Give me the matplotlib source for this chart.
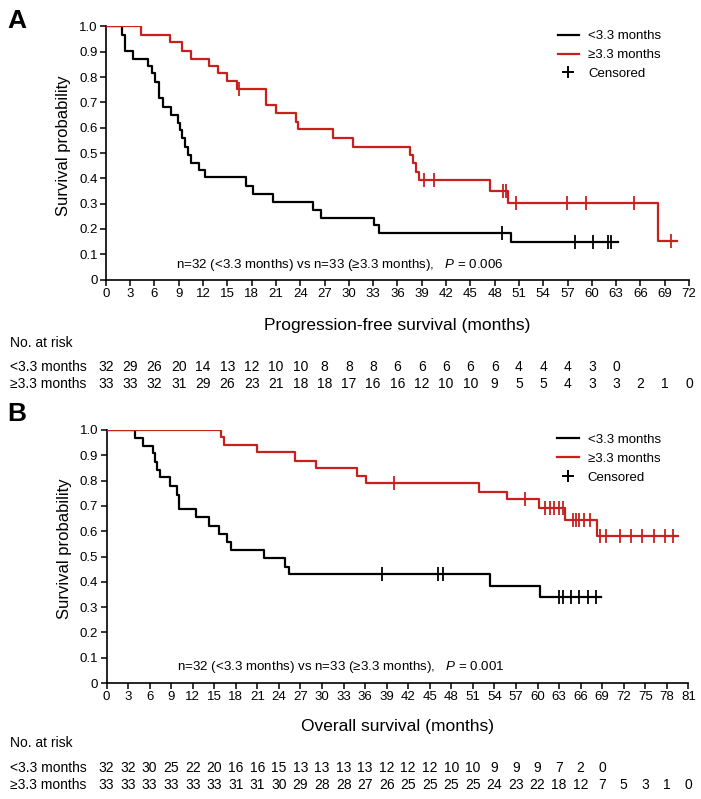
import matplotlib
matplotlib.use('Agg')
import matplotlib.pyplot as plt
import matplotlib.transforms as mtransforms
from matplotlib.lines import Line2D
import numpy as np

plt.rcParams['font.family'] = ['Liberation Sans', 'DejaVu Sans']
plt.rcParams['mathtext.fontset'] = 'custom'
plt.rcParams['mathtext.it'] = 'Liberation Sans:italic'
plt.rcParams['mathtext.rm'] = 'Liberation Sans'

RED = '#c8201e'

# ---- Panel A: progression-free survival ----
pfs_low_t = [1.95, 2.35, 3.3, 5.2, 5.75, 6.05, 6.55, 7.0, 8.1, 8.9, 9.1, 9.35, 9.75,
             10.15, 10.55, 11.5, 12.2, 17.35, 18.15, 20.65, 25.55, 26.55, 33.15, 33.75, 50.0]
pfs_low_s = [0.967, 0.901, 0.871, 0.842, 0.815, 0.782, 0.716, 0.683, 0.650, 0.617, 0.591, 0.558, 0.525,
             0.492, 0.459, 0.433, 0.404, 0.371, 0.340, 0.307, 0.274, 0.245, 0.215, 0.185, 0.150]
pfs_low_cens = [48.85, 57.9, 60.2, 62.0, 62.4]
pfs_low_end = 63.2

pfs_high_t = [4.4, 7.9, 9.35, 10.45, 12.75, 13.9, 14.9, 16.25, 19.8, 21.0, 23.5, 23.7, 28.1, 30.5,
              37.5, 37.9, 38.3, 38.7, 47.4, 49.6, 68.2]
pfs_high_s = [0.967, 0.937, 0.904, 0.872, 0.843, 0.814, 0.786, 0.753, 0.690, 0.657, 0.624, 0.594, 0.558, 0.523,
              0.492, 0.459, 0.426, 0.393, 0.351, 0.303, 0.151]
pfs_high_cens = [16.4, 39.3, 40.5, 49.0, 49.4, 50.6, 56.9, 59.3, 65.2, 69.8]
pfs_high_end = 70.5

pfs_risk_low = [32, 29, 26, 20, 14, 13, 12, 10, 10, 8, 8, 8, 6, 6, 6, 6, 6, 4, 4, 4, 3, 0]
pfs_risk_high = [33, 33, 32, 31, 29, 26, 23, 21, 18, 18, 17, 16, 16, 12, 10, 10, 9, 5, 5, 4, 3, 3, 2, 1, 0]

# ---- Panel B: overall survival ----
os_low_t = [3.94, 5.1, 6.4, 6.73, 7.05, 7.4, 8.8, 9.83, 10.1, 12.4, 14.3, 15.7, 16.7, 17.3,
            21.9, 24.8, 25.4, 53.4, 60.3]
os_low_s = [0.967, 0.937, 0.908, 0.875, 0.842, 0.813, 0.779, 0.744, 0.687, 0.654, 0.621, 0.590, 0.559, 0.526,
            0.493, 0.460, 0.430, 0.385, 0.340]
os_low_cens = [38.4, 46.2, 46.9, 63.0, 63.6, 64.7, 65.8, 67.0, 68.2]
os_low_end = 68.8

os_high_t = [16.0, 16.3, 21.0, 26.2, 29.2, 34.8, 36.1, 51.9, 55.8, 60.2, 63.8, 68.3]
os_high_s = [0.970, 0.941, 0.911, 0.878, 0.849, 0.818, 0.789, 0.756, 0.726, 0.691, 0.645, 0.582]
os_high_cens = [40.0, 58.3, 61.1, 61.7, 62.3, 63.0, 63.5, 64.9, 65.4, 65.8, 66.5, 67.3,
                68.7, 69.6, 71.5, 73.0, 74.5, 76.2, 77.8, 78.9]
os_high_end = 79.5

os_risk_low = [32, 32, 30, 25, 22, 20, 16, 16, 15, 13, 13, 13, 13, 12, 12, 12, 10, 10, 9, 9, 9, 7, 2, 0]
os_risk_high = [33, 33, 33, 33, 33, 33, 31, 31, 30, 29, 28, 28, 27, 26, 25, 25, 25, 25, 24, 23, 22, 18, 12, 7, 5, 3, 1, 0]

group_labels = ['<3.3 months', '\u22653.3 months']


def km_curve(ax, times, surv, cens, end, color):
    x = [0] + list(times) + [end]
    y = [1.0] + list(surv) + [surv[-1]]
    ax.step(x, y, where='post', color=color, lw=1.6, zorder=3)
    # censor marks sit on the step level
    idx = np.searchsorted(np.array(times), np.array(cens), side='right')
    levels = np.concatenate([[1.0], surv])[idx]
    ax.plot(cens, levels, ls='none', marker='|', ms=10, mew=1.3, color=color, zorder=4)


def setup_axes(ax, xmax, xlabel, ptext, note_x, note_y, xlab_y):
    ax.set_xlim(0, xmax)
    ax.set_ylim(0, 1.0)
    ax.set_xticks(np.arange(0, xmax + 1, 3))
    ax.set_yticks(np.arange(0, 1.01, 0.1))
    ax.set_yticklabels(['0'] + ['%.1f' % v for v in np.arange(0.1, 1.01, 0.1)])
    ax.spines['top'].set_visible(False)
    ax.spines['right'].set_visible(False)
    for s in ['left', 'bottom']:
        ax.spines[s].set_linewidth(1.2)
    ax.tick_params(direction='out', length=4, width=1.1, labelsize=9.5, pad=2)
    ax.set_xlabel(xlabel, fontsize=12.5)
    ax.set_ylabel('Survival probability', fontsize=12)
    ax.xaxis.set_label_coords(0.5, xlab_y)
    ax.yaxis.set_label_coords(-0.06, 0.53)
    ax.text(note_x, note_y, 'n=32 (<3.3 months) vs n=33 (\u22653.3 months),   $\\mathit{P}$ = ' + ptext,
            fontsize=9.6, va='center', ha='left')
    handles = [Line2D([], [], color='black', lw=1.6),
               Line2D([], [], color=RED, lw=1.6),
               Line2D([], [], color='black', ls='none', marker='+', ms=9, mew=1.4)]
    ax.legend(handles, group_labels + ['Censored'], loc='upper left',
              bbox_to_anchor=(0.775, 0.985), frameon=False, fontsize=9.5,
              handlelength=1.6, handletextpad=0.7, labelspacing=0.5,
              borderpad=0, borderaxespad=0)


def risk_table(fig, ax, risk_low, risk_high, y_head, y1, y2):
    trans = mtransforms.blended_transform_factory(ax.transData, fig.transFigure)
    fig.text(0.014, y_head, 'No. at risk', fontsize=10, va='center')
    fig.text(0.014, y1, group_labels[0], fontsize=10, va='center')
    fig.text(0.014, y2, group_labels[1], fontsize=10, va='center')
    for i, n in enumerate(risk_low):
        ax.text(i * 3, y1, str(n), transform=trans, fontsize=10, ha='center', va='center')
    for i, n in enumerate(risk_high):
        ax.text(i * 3, y2, str(n), transform=trans, fontsize=10, ha='center', va='center')


fig = plt.figure(figsize=(7.01, 7.99), dpi=100)
axA = fig.add_axes([0.151, 0.650, 0.832, 0.317])
axB = fig.add_axes([0.152, 0.145, 0.830, 0.317])

km_curve(axA, pfs_low_t, pfs_low_s, pfs_low_cens, pfs_low_end, 'black')
km_curve(axA, pfs_high_t, pfs_high_s, pfs_high_cens, pfs_high_end, RED)
setup_axes(axA, 72, 'Progression-free survival (months)', '0.006', 8.7, 0.057, -0.152)

km_curve(axB, os_low_t, os_low_s, os_low_cens, os_low_end, 'black')
km_curve(axB, os_high_t, os_high_s, os_high_cens, os_high_end, RED)
setup_axes(axB, 81, 'Overall survival (months)', '0.001', 9.8, 0.064, -0.142)

risk_table(fig, axA, pfs_risk_low, pfs_risk_high, 0.571, 0.541, 0.520)
risk_table(fig, axB, os_risk_low, os_risk_high, 0.070, 0.039, 0.017)

fig.text(0.011, 0.974, 'A', fontsize=19, fontweight='bold', va='center')
fig.text(0.011, 0.482, 'B', fontsize=19, fontweight='bold', va='center')

fig.savefig('out.png', dpi=100)
